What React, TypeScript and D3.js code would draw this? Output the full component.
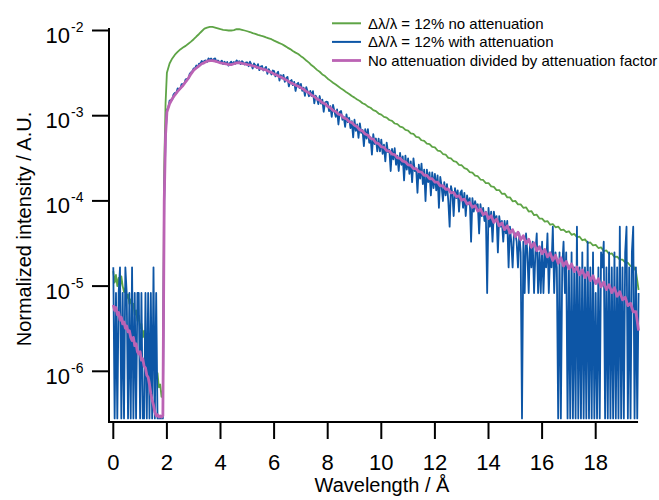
import React from "react";
import * as d3 from "d3";

// Wavelength grids (Å)
const LEFT_START = 0;
const LEFT_STEP = 0.05;
const MAIN_START = 2.0;
const MAIN_STEP = 0.1;
const BLUE_STEP = 0.05;
const COUNT_UNIT = 8.3e-6; // one detector count in normalized units
const FLOOR = 2.8e-7; // zero counts are drawn on the bottom of the axis

// 0 – 1.95 Å, step 0.05
const greenLeft = [
  1.5e-5, 1.1e-5, 1.35e-5, 1.0e-5, 1.25e-5, 9.5e-6, 1.3e-5, 1.0e-5,
  8.5e-6, 9.5e-6, 7.2e-6, 8e-6, 6.2e-6, 7e-6, 5.5e-6, 6.2e-6,
  4.6e-6, 5.2e-6, 3.9e-6, 4.5e-6, 3.2e-6, 3.6e-6, 2.5e-6, 3.0e-6,
  2.1e-6, 2.4e-6, 1.8e-6, 2.0e-6, 1.4e-6, 1.6e-6, 1.1e-6, 1.25e-6,
  8.5e-7, 9.5e-7, 6.5e-7, 7e-7, 5e-7, 6e-7, 2.5e-4, 1.4e-3,
];
const pinkLeft = [
  6.0e-6, 5.2e-6, 5.6e-6, 4.6e-6, 4.9e-6, 4.0e-6, 4.3e-6, 3.6e-6,
  3.8e-6, 3.2e-6, 3.4e-6, 2.9e-6, 3.0e-6, 2.5e-6, 2.3e-6, 2.5e-6,
  2.0e-6, 2.1e-6, 1.7e-6, 1.6e-6, 1.7e-6, 1.35e-6, 1.4e-6, 1.15e-6,
  1.1e-6, 9e-7, 8.5e-7, 7e-7, 5.5e-7, 4.6e-7, 4.0e-7, 3.3e-7,
  3.0e-7, 3.1e-7, 2.9e-7, 3.0e-7, 2.9e-7, 3.0e-7, 1.0e-4, 6.0e-4,
];
const blueLeftCounts = [
  2, 0, 1, 0, 1, 2, 0, 1, 0, 2, 1, 0, 1, 0, 2, 0, 1, 0, 1, 1,
  0, 1, 0, 0, 1, 0, 1, 0, 1, 0, 2, 0, 1, 0, 0, 0, 0, 0, 12, 70,
];

// 2.0 – 19.6 Å, step 0.1
const greenMain = [
  3.2e-3, 4.1e-3, 4.7e-3, 5.2e-3, 5.6e-3, 6.0e-3, 6.3e-3, 6.6e-3, 7.0e-3, 7.4e-3,
  7.9e-3, 8.5e-3, 9.1e-3, 9.8e-3, 1.05e-2, 1.08e-2, 1.1e-2, 1.1e-2, 1.08e-2, 1.06e-2,
  1.035e-2, 1.02e-2, 1.01e-2, 1.0e-2, 1.0e-2, 1.01e-2, 1.035e-2, 1.035e-2, 1.02e-2, 1.0e-2,
  9.8e-3, 9.6e-3, 9.3e-3, 9.15e-3, 8.9e-3, 8.7e-3, 8.55e-3, 8.3e-3, 8.1e-3, 7.9e-3,
  7.6e-3, 7.35e-3, 7.1e-3, 6.9e-3, 6.6e-3, 6.3e-3, 6.05e-3, 5.75e-3, 5.5e-3, 5.3e-3,
  5.0e-3, 4.75e-3, 4.45e-3, 4.2e-3, 3.9e-3, 3.7e-3, 3.45e-3, 3.28e-3, 3.05e-3, 2.92e-3,
  2.72e-3, 2.58e-3, 2.44e-3, 2.32e-3, 2.2e-3, 2.08e-3, 1.99e-3, 1.88e-3, 1.8e-3, 1.7e-3,
  1.63e-3, 1.55e-3, 1.49e-3, 1.4e-3, 1.36e-3, 1.28e-3, 1.24e-3, 1.16e-3, 1.13e-3, 1.06e-3,
  1.03e-3, 9.7e-4, 9.5e-4, 8.9e-4, 8.7e-4, 8.1e-4, 7.95e-4, 7.45e-4, 7.3e-4, 6.8e-4,
  6.7e-4, 6.2e-4, 6.1e-4, 5.65e-4, 5.55e-4, 5.15e-4, 5.05e-4, 4.7e-4, 4.65e-4, 4.3e-4,
  4.25e-4, 3.9e-4, 3.85e-4, 3.55e-4, 3.5e-4, 3.2e-4, 3.15e-4, 2.92e-4, 2.87e-4, 2.65e-4,
  2.62e-4, 2.42e-4, 2.36e-4, 2.18e-4, 2.15e-4, 1.98e-4, 1.95e-4, 1.78e-4, 1.76e-4, 1.62e-4,
  1.62e-4, 1.48e-4, 1.46e-4, 1.34e-4, 1.34e-4, 1.21e-4, 1.22e-4, 1.1e-4, 1.1e-4, 9.9e-5,
  1.0e-4, 9.1e-5, 9.1e-5, 8.3e-5, 8.4e-5, 7.5e-5, 7.6e-5, 6.8e-5, 6.9e-5, 6.2e-5,
  6.2e-5, 5.7e-5, 5.8e-5, 5.25e-5, 5.35e-5, 4.9e-5, 5.0e-5, 4.55e-5, 4.6e-5, 4.3e-5,
  4.4e-5, 4.0e-5, 4.1e-5, 3.75e-5, 3.8e-5, 3.45e-5, 3.55e-5, 3.2e-5, 3.25e-5, 3.0e-5,
  3.05e-5, 2.8e-5, 2.85e-5, 2.58e-5, 2.62e-5, 2.38e-5, 2.42e-5, 2.2e-5, 2.22e-5, 2.05e-5,
  2.05e-5, 1.9e-5, 1.88e-5, 1.72e-5, 1.72e-5, 1.5e-5, 9e-6,
];
const pinkMain = [
  1.1e-3, 1.38e-3, 1.58e-3, 1.76e-3, 1.93e-3, 2.09e-3, 2.26e-3, 2.5e-3, 2.75e-3, 3.1e-3,
  3.43e-3, 3.63e-3, 3.85e-3, 4.07e-3, 4.2e-3, 4.36e-3, 4.42e-3, 4.43e-3, 4.36e-3, 4.27e-3,
  4.17e-3, 4.12e-3, 4.07e-3, 3.98e-3, 3.98e-3, 4.07e-3, 4.17e-3, 4.19e-3, 4.12e-3, 4.07e-3,
  3.98e-3, 3.94e-3, 3.85e-3, 3.78e-3, 3.66e-3, 3.6e-3, 3.49e-3, 3.44e-3, 3.3e-3, 3.22e-3,
  3.08e-3, 3.0e-3, 2.87e-3, 2.8e-3, 2.68e-3, 2.58e-3, 2.44e-3, 2.38e-3, 2.28e-3, 2.22e-3,
  2.13e-3, 2.05e-3, 1.92e-3, 1.86e-3, 1.74e-3, 1.68e-3, 1.57e-3, 1.52e-3, 1.42e-3, 1.38e-3,
  1.28e-3, 1.24e-3, 1.15e-3, 1.12e-3, 1.04e-3, 1.02e-3, 9.4e-4, 9.2e-4, 8.5e-4, 8.3e-4,
  7.7e-4, 7.4e-4, 6.8e-4, 6.6e-4, 6.1e-4, 5.9e-4, 5.4e-4, 5.3e-4, 4.8e-4, 4.7e-4,
  4.3e-4, 4.25e-4, 3.9e-4, 3.85e-4, 3.55e-4, 3.5e-4, 3.2e-4, 3.17e-4, 2.92e-4, 2.88e-4,
  2.64e-4, 2.62e-4, 2.4e-4, 2.38e-4, 2.2e-4, 2.18e-4, 2.0e-4, 1.99e-4, 1.82e-4, 1.82e-4,
  1.66e-4, 1.66e-4, 1.5e-4, 1.51e-4, 1.37e-4, 1.38e-4, 1.24e-4, 1.26e-4, 1.12e-4, 1.15e-4,
  1.02e-4, 1.05e-4, 9.2e-5, 9.6e-5, 8.4e-5, 8.8e-5, 7.6e-5, 8.0e-5, 6.9e-5, 7.3e-5,
  6.2e-5, 6.7e-5, 5.6e-5, 6.1e-5, 5.1e-5, 5.5e-5, 4.6e-5, 5.1e-5, 4.2e-5, 4.6e-5,
  3.8e-5, 4.3e-5, 3.5e-5, 3.9e-5, 3.15e-5, 3.55e-5, 2.85e-5, 3.2e-5, 2.6e-5, 2.9e-5,
  2.4e-5, 2.7e-5, 2.2e-5, 2.45e-5, 2.0e-5, 2.3e-5, 1.85e-5, 2.15e-5, 1.72e-5, 1.95e-5,
  1.6e-5, 1.82e-5, 1.48e-5, 1.68e-5, 1.36e-5, 1.55e-5, 1.26e-5, 1.45e-5, 1.16e-5, 1.32e-5,
  1.07e-5, 1.22e-5, 9.8e-6, 1.12e-5, 9.1e-6, 1.04e-5, 8.4e-6, 9.6e-6, 7.6e-6, 8.6e-6,
  6.9e-6, 7.4e-6, 5.9e-6, 6.3e-6, 5.0e-6, 5.0e-6, 3.0e-6,
];

// 2.0 – 19.6 Å, step 0.05 (detector counts)
const blueMainCounts = [
  141, 150, 181, 183, 186, 215, 223, 222, 252, 248, 249, 283, 283, 286, 322, 325, 328, 373, 388, 401,
  434, 434, 468, 446, 492, 491, 529, 498, 531, 536, 515, 566, 549, 566, 534, 557, 567, 515, 535, 518,
  517, 534, 486, 518, 495, 514, 466, 499, 518, 485, 515, 491, 537, 514, 525, 485, 526, 508, 480, 509,
  509, 459, 518, 479, 432, 495, 471, 439, 486, 412, 455, 462, 409, 431, 450, 374, 423, 396, 367, 409,
  402, 348, 374, 395, 312, 361, 329, 363, 301, 333, 344, 266, 304, 316, 275, 301, 235, 282, 293, 254,
  284, 236, 257, 206, 261, 232, 204, 235, 205, 234, 168, 207, 192, 165, 205, 167, 186, 134, 172, 176,
  174, 136, 156, 117, 161, 136, 117, 143, 95, 133, 137, 108, 117, 89, 125, 101, 114, 86, 104, 67,
  108, 80, 95, 66, 98, 76, 82, 53, 84, 65, 84, 58, 67, 42, 73, 56, 65, 46, 65, 46,
  63, 43, 55, 35, 58, 45, 48, 27, 49, 37, 50, 32, 41, 27, 44, 32, 40, 21, 41, 28,
  38, 25, 35, 20, 38, 27, 29, 15, 32, 22, 33, 19, 28, 12, 28, 20, 26, 14, 26, 17,
  25, 16, 24, 10, 23, 18, 12, 20, 14, 19, 12, 6, 18, 15, 8, 17, 13, 16, 9, 15,
  16, 10, 15, 8, 14, 11, 13, 4, 13, 9, 12, 10, 11, 5, 11, 8, 10, 7, 9, 1,
  10, 6, 9, 4, 9, 7, 8, 3, 8, 6, 7, 4, 7, 5, 7, 2, 6, 4, 2, 5,
  5, 4, 2, 5, 3, 0, 4, 1, 5, 3, 1, 4, 2, 4, 1, 3, 5, 1, 3, 1,
  4, 1, 3, 2, 5, 1, 3, 2, 6, 1, 3, 2, 0, 3, 0, 2, 4, 1, 3, 0,
  2, 0, 3, 0, 2, 0, 6, 0, 2, 0, 3, 0, 2, 0, 4, 0, 2, 0, 3, 0,
  1, 0, 2, 0, 3, 2, 4, 0, 2, 0, 3, 0, 2, 0, 3, 0, 2, 0, 6, 0,
  2, 0, 3, 6, 0, 2, 0, 3, 6, 0, 2, 0, 1,
];

const xTicks = [0, 2, 4, 6, 8, 10, 12, 14, 16, 18];
const yTicks = [1e-6, 1e-5, 1e-4, 1e-3, 1e-2];
const yTickExps = ["-6", "-5", "-4", "-3", "-2"];
const legendLabels = [
  "Δλ/λ = 12% no attenuation",
  "Δλ/λ = 12% with attenuation",
  "No attenuation divided by attenuation factor",
];
const legendColors = ["#5ea446", "#0d56a6", "#bb63b4"];

const FONT = "'Liberation Sans', Arial, Helvetica, sans-serif";

type Pt = [number, number];

function toPoints(vals: number[], start: number, step: number, unit = 1): Pt[] {
  return vals.map((v, i) => [start + i * step, v * unit] as Pt);
}

export default function App() {
  const x = d3.scaleLinear().domain([0, 18]).range([113.3, 595.7]);
  const y = d3.scaleLog().domain([1e-6, 1e-2]).range([371.3, 30.5]);

  const line = d3
    .line<Pt>()
    .x((d) => x(d[0]))
    .y((d) => y(Math.max(d[1], FLOOR)));

  const green = [...toPoints(greenLeft, LEFT_START, LEFT_STEP), ...toPoints(greenMain, MAIN_START, MAIN_STEP)];
  const pink = [...toPoints(pinkLeft, LEFT_START, LEFT_STEP), ...toPoints(pinkMain, MAIN_START, MAIN_STEP)];
  const blue = [
    ...toPoints(blueLeftCounts, LEFT_START, LEFT_STEP, COUNT_UNIT),
    ...toPoints(blueMainCounts, MAIN_START, BLUE_STEP, COUNT_UNIT),
  ];

  const axisX = 109;
  const axisY = 422;
  const xEnd = x(19.58);
  const yTop = 28;

  return (
    <svg
      width={659}
      height={500}
      style={{ position: "absolute", left: 0, top: 0, background: "#fff" }}
      fontFamily={FONT}
    >
      <rect x={0} y={0} width={659} height={500} fill="#fff" />
      {/* data */}
      <path d={line(green) || ""} fill="none" stroke={legendColors[0]} strokeWidth={1.8} strokeLinejoin="round" />
      <path d={line(blue) || ""} fill="none" stroke={legendColors[1]} strokeWidth={1.8} strokeLinejoin="round" />
      <path d={line(pink) || ""} fill="none" stroke={legendColors[2]} strokeWidth={2.8} strokeLinejoin="round" />

      {/* axes */}
      <line x1={axisX} y1={yTop} x2={axisX} y2={axisY + 1} stroke="#000" strokeWidth={2} />
      <line x1={axisX - 1} y1={axisY} x2={xEnd} y2={axisY} stroke="#000" strokeWidth={2} />

      {yTicks.map((t, i) => (
        <g key={"y" + i}>
          <line x1={axisX - 17} y1={y(t)} x2={axisX} y2={y(t)} stroke="#000" strokeWidth={2} />
          <text x={70} y={y(t) + 12.5} fontSize={22} textAnchor="end" fill="#000">
            10
          </text>
          <text x={71} y={y(t) + 1.5} fontSize={14} textAnchor="start" fill="#000">
            {yTickExps[i]}
          </text>
        </g>
      ))}

      {xTicks.map((t) => (
        <g key={"x" + t}>
          <line x1={x(t)} y1={axisY} x2={x(t)} y2={axisY + 17} stroke="#000" strokeWidth={2} />
          <text x={x(t)} y={470} fontSize={22} textAnchor="middle" fill="#000">
            {t}
          </text>
        </g>
      ))}

      <text x={382} y={492} fontSize={20} textAnchor="middle" fill="#000">
        Wavelength / Å
      </text>
      <text
        transform="translate(30.5,229) rotate(-90)"
        fontSize={20}
        textAnchor="middle"
        fill="#000"
      >
        Normalized intensity / A.U.
      </text>

      {/* legend */}
      {legendLabels.map((lab, i) => {
        const ly = 23.3 + i * 18.6;
        return (
          <g key={"l" + i}>
            <line x1={332} y1={ly} x2={361} y2={ly} stroke={legendColors[i]} strokeWidth={i === 2 ? 2.8 : 2} />
            <text x={368} y={ly + 5.3} fontSize={15} fill="#000">
              {lab}
            </text>
          </g>
        );
      })}
    </svg>
  );
}
